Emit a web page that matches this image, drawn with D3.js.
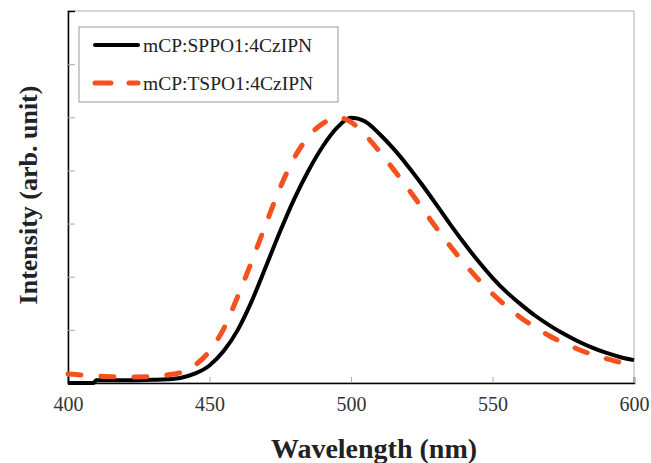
<!DOCTYPE html>
<html>
<head>
<meta charset="utf-8">
<script src="https://cdn.jsdelivr.net/npm/d3@7"></script>
<style>
  body { margin: 0; background: #fff; }
  svg { display: block; font-family: "Liberation Serif", "Times New Roman", serif; }
</style>
</head>
<body>
<svg></svg>
<script>
//Data
var wavelengths = [400, 405, 409, 410, 420, 430, 435, 440, 445, 450, 455, 460, 465, 470, 475, 480, 485, 490, 495, 500,
                   505, 510, 515, 520, 525, 530, 535, 540, 545, 550, 555, 560, 565, 570, 575, 580, 585, 590, 595, 600];
var sppo1 = [0, 0, 0, 0.05, 0.05, 0.06, 0.07, 0.1, 0.18, 0.33, 0.6, 1.0, 1.55, 2.2, 2.86, 3.47, 4.0, 4.45, 4.8, 4.99,
             4.92, 4.69, 4.41, 4.09, 3.74, 3.37, 2.99, 2.63, 2.29, 1.98, 1.71, 1.48, 1.27, 1.09, 0.93, 0.79, 0.67, 0.57, 0.49, 0.43];
var tspo1 = [0.17, 0.15, 0.13, 0.13, 0.11, 0.12, 0.15, 0.2, 0.34, 0.6, 1.02, 1.63, 2.3, 3.0, 3.68, 4.24, 4.64, 4.88, 5.0, 4.91,
             4.67, 4.36, 4.02, 3.67, 3.3, 2.93, 2.58, 2.25, 1.95, 1.68, 1.44, 1.23, 1.05, 0.89, 0.76, 0.64, 0.54, 0.46, 0.39, 0.34];
var seriesNames = ['mCP:SPPO1:4CzIPN', 'mCP:TSPO1:4CzIPN'];
var xTicks = [400, 450, 500, 550, 600];
var yTicks = [1, 2, 3, 4, 5, 6];

//General setup
var width = 651, height = 463;
var margin = {left: 68, right: 17, top: 11, bottom: 80};
var svg = d3.select('svg').attr('width', width).attr('height', height);

var x = d3.scaleLinear().domain([400, 600]).range([margin.left, width - margin.right]);
var y = d3.scaleLinear().domain([0, 7]).range([height - margin.bottom, margin.top]);

var colors = ['#000000', '#f4511e'];

//Frame
svg.append('rect')
   .attr('x', margin.left).attr('y', margin.top)
   .attr('width', x(600) - x(400)).attr('height', y(0) - y(7))
   .attr('fill', 'none').attr('stroke', '#b0b0b0').attr('stroke-width', 1);

//Axes
var xAxis = d3.axisBottom(x).tickValues(xTicks).tickSize(-6).tickPadding(14);
var gx = svg.append('g').attr('transform', `translate(0, ${y(0)})`).call(xAxis);
gx.select('.domain').attr('stroke', '#000').attr('stroke-width', 1.5);
gx.selectAll('.tick line').attr('stroke', '#aaa');
gx.selectAll('.tick text').attr('font-size', 20).attr('fill', '#333')
  .attr('font-family', '"Liberation Serif", serif');

var yAxis = d3.axisLeft(y).tickValues(yTicks).tickSize(-7).tickFormat('');
var gy = svg.append('g').attr('transform', `translate(${margin.left}, 0)`).call(yAxis);
gy.select('.domain').attr('stroke', '#000').attr('stroke-width', 1.5);
gy.selectAll('.tick line').attr('stroke', '#aaa');

//Axis titles
svg.append('text')
   .attr('x', 374).attr('y', 458)
   .attr('text-anchor', 'middle')
   .attr('font-size', 28).attr('font-weight', 'bold').attr('fill', '#222')
   .text('Wavelength (nm)');

svg.append('text')
   .attr('transform', `translate(37, ${(y(0) + y(7)) / 2 - 2}) rotate(-90)`)
   .attr('text-anchor', 'middle')
   .attr('font-size', 26).attr('font-weight', 'bold').attr('fill', '#222')
   .text('Intensity (arb. unit)');

//Lines
var line = d3.line()
    .x(d => x(d[0]))
    .y(d => y(d[1]))
    .curve(d3.curveMonotoneX);

var series = [sppo1, tspo1].map(vals => wavelengths.map((w, i) => [w, vals[i]]));

svg.append('path')
   .datum(series[0])
   .attr('fill', 'none')
   .attr('stroke', colors[0])
   .attr('stroke-width', 4)
   .attr('d', line);

svg.append('path')
   .datum(series[1])
   .attr('fill', 'none')
   .attr('stroke', colors[1])
   .attr('stroke-width', 5)
   .attr('stroke-linecap', 'round')
   .attr('stroke-dasharray', '13,20')
   .attr('d', line);

//Legend
var legend = svg.append('g');
legend.append('rect')
      .attr('x', 79).attr('y', 27).attr('width', 259).attr('height', 75)
      .attr('fill', '#fff').attr('stroke', '#999').attr('stroke-width', 1);

seriesNames.forEach((name, i) => {
    var ly = 45 + i * 38;
    legend.append('line')
          .attr('x1', 95).attr('x2', 138).attr('y1', ly).attr('y2', ly)
          .attr('stroke', colors[i])
          .attr('stroke-width', i === 0 ? 4 : 5)
          .attr('stroke-linecap', 'round')
          .attr('stroke-dasharray', i === 0 ? null : '16,18');
    legend.append('text')
          .attr('x', 143).attr('y', ly + 7)
          .attr('font-size', 19.5).attr('fill', '#222')
          .text(name);
});
</script>
</body>
</html>
